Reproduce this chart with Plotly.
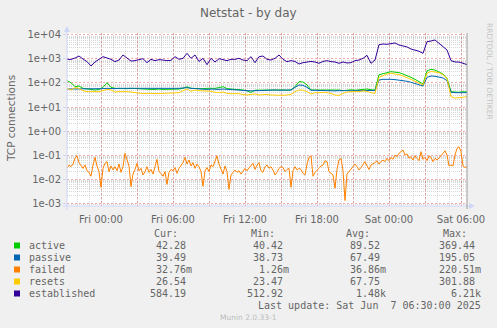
import pandas as pd
import plotly.graph_objects as go

# ---- data (Netstat, 2025-06-05 21:10 .. 2025-06-07 06:30) ----
t20 = pd.date_range("2025-06-05 21:10", "2025-06-07 06:30", freq="20min")
t10 = pd.date_range("2025-06-05 21:10", "2025-06-07 06:30", freq="10min")

established = [
    969, 960, 1100, 1330, 1000, 774, 512.92, 750, 969, 1250,
    1100, 969, 774, 908, 1468, 1100, 820, 853, 969, 1030,
    703, 969, 853, 940, 908, 853, 880, 1250, 969, 1066,
    1722, 1066, 1468, 790, 1066, 580, 1066, 750, 1030, 908,
    853, 969, 969, 1066, 908, 853, 1250, 703, 1250, 1330,
    969,
    908, 1066, 1468, 969, 774, 853, 790, 619, 703, 725,
    790, 750, 660, 790, 853, 774, 750, 660, 750, 680,
    703, 853, 908, 1066, 1420, 660, 908, 3950, 4217, 4100,
    4500, 4650, 3830, 3600, 3180, 2600, 2300, 2100, 1722, 5270,
    5620, 6210, 4500, 3266, 2371, 853, 750, 750, 680, 584.19,
]

active = [
    125, 103, 70, 75, 60, 58, 56, 51, 54, 66,
    103, 66, 60, 58, 60, 58, 60, 58, 60, 58,
    56, 54, 54, 56, 54, 54, 56, 54, 56, 60,
    70, 60, 58, 60, 58, 60, 58, 60, 64, 70,
    58, 56, 54, 56, 51, 47, 40.42, 50, 51, 52,
    51,
    51, 51, 52, 51, 50, 51, 70, 114, 110, 83,
    51, 51, 52, 51, 51, 51, 50, 51, 48, 51,
    52, 50, 52, 54, 56, 52, 51, 222, 237, 269,
    297, 288, 269, 237, 208, 172, 142, 118, 91, 320,
    369.44, 345, 297, 237, 156, 43.5, 42, 41, 43.5, 42.28,
]

passive = [
    56, 56, 58, 56, 54, 54, 56, 54, 56, 58,
    60, 58, 58, 60, 60, 58, 60, 58, 56, 58,
    56, 56, 58, 56, 56, 58, 56, 58, 60, 62,
    64, 60, 58, 56, 56, 54, 56, 54, 54, 56,
    54, 54, 52, 51, 50, 48, 47, 48, 50, 50,
    50,
    50, 51, 50, 51, 50, 51, 66, 83, 80, 66,
    50, 49, 48, 48, 49, 48, 47, 48, 49, 48,
    47, 48, 49, 50, 51, 49, 48, 133, 142, 146,
    142, 138, 133, 125, 118, 107, 97, 88, 75, 172,
    195.05, 190, 178, 162, 125, 41, 39.5, 38.73, 40.5, 39.49,
]

resets = [
    60, 51, 64, 60, 48, 43.5, 43.5, 42, 43.5, 48,
    54, 51, 42, 43.5, 45, 43.5, 42, 39.5, 37, 36,
    37, 36, 37, 36, 37, 38, 39.5, 41, 39.5, 48,
    56, 45, 51, 48, 47, 48, 45, 41, 39.5, 42,
    37, 36, 37, 36, 32.5, 31.6, 33.5, 34.8, 31.6, 32.5,
    33.5,
    31.6, 30.5, 31.6, 30.5, 31.6, 33.5, 43.5, 51, 50, 43.5,
    34.8, 39.5, 39.5, 41, 39.5, 37, 31.6, 30.5, 37, 42,
    43.5, 42, 43.5, 47, 45, 39.5, 37, 172, 205, 237,
    253, 245, 222, 196, 172, 142, 118, 100, 83, 253,
    301.88, 288, 269, 222, 156, 27, 23.47, 24.5, 25.3, 26.54,
]

failed = [
    0.0278, 0.0383, 0.0326, 0.042, 0.0727, 0.092, 0.048, 0.035, 0.0278, 0.0383,
    0.022, 0.019, 0.013, 0.0383, 0.080, 0.035, 0.0202, 0.0045, 0.0278, 0.045,
    0.0528, 0.0202, 0.035, 0.0237, 0.0326, 0.022, 0.042, 0.019, 0.0326, 0.117,
    0.066, 0.035, 0.0048, 0.016, 0.025, 0.045, 0.022, 0.0278, 0.0147, 0.0202,
    0.0326, 0.019, 0.025, 0.016, 0.0326, 0.066, 0.0202, 0.0172, 0.013, 0.0202,
    0.006, 0.019, 0.025, 0.022, 0.030, 0.0172, 0.0278, 0.035, 0.048, 0.080,
    0.042, 0.0619, 0.035, 0.048, 0.0278, 0.042, 0.0326, 0.0202, 0.005, 0.022,
    0.030, 0.0202, 0.0383, 0.0326, 0.058, 0.092, 0.042, 0.0278, 0.016, 0.035,
    0.0202, 0.0037, 0.0147, 0.019, 0.0237, 0.019, 0.022, 0.016, 0.0202, 0.0278,
    0.022, 0.030, 0.035, 0.045, 0.025, 0.0383, 0.048, 0.022, 0.019, 0.0326,
    0.0383,
    0.0278, 0.0326, 0.0237, 0.0147, 0.019, 0.0278, 0.0326, 0.030, 0.0202, 0.025,
    0.0278, 0.0045, 0.022, 0.0326, 0.0237, 0.0278, 0.025, 0.0172, 0.0147, 0.042,
    0.080, 0.092, 0.013, 0.019, 0.022, 0.0278, 0.035, 0.0383, 0.058, 0.0528,
    0.0202, 0.0172, 0.0147, 0.0041, 0.025, 0.0619, 0.0727, 0.022, 0.00126, 0.016,
    0.0202, 0.025, 0.0326, 0.042, 0.0326, 0.0237, 0.030, 0.042, 0.0528, 0.035,
    0.025, 0.0383, 0.042, 0.048, 0.058, 0.042, 0.0528, 0.0619, 0.0528, 0.0727,
    0.058, 0.080, 0.066, 0.100, 0.0853, 0.117, 0.138, 0.161, 0.100, 0.110,
    0.0727, 0.0853, 0.0619, 0.092, 0.0727, 0.058, 0.138, 0.066, 0.080, 0.058,
    0.092, 0.080, 0.0528, 0.0727, 0.0619, 0.080, 0.092, 0.117, 0.150, 0.100,
    0.035, 0.0383, 0.035, 0.100, 0.19, 0.2205, 0.138, 0.035, 0.030, 0.03276,
]

series_names = ["active", "passive", "failed", "resets", "established"]
series_colors = ["#00CC00", "#0066B3", "#FF8000", "#FFCC00", "#330099"]
series_x = [t20, t20, t10, t20, t20]
series_y = [active, passive, failed, resets, established]

col_headers = ["Cur:", "Min:", "Avg:", "Max:"]
stats = [
    ["42.28", "40.42", "89.52", "369.44"],
    ["39.49", "38.73", "67.49", "195.05"],
    ["32.76m", "1.26m", "36.86m", "220.51m"],
    ["26.54", "23.47", "67.75", "301.88"],
    ["584.19", "512.92", "1.48k", "6.21k"],
]

y_tick_vals = [1e-3, 1e-2, 1e-1, 1e0, 1e1, 1e2, 1e3, 1e4]
y_tick_text = ["1e-03", "1e-02", "1e-01", "1e+00", "1e+01", "1e+02", "1e+03", "1e+04"]

# ---- page geometry ----
W, H = 497, 328
PL, PT, PW, PH = 67, 33, 400, 173
FONT_C = "#666666"
AXIS_C = "#CFD6F8"


def px(x):
    return (x - PL) / PW


def py(y):
    return (PT + PH - y) / PH


fig = go.Figure()
for name, color, xs, ys in zip(series_names, series_colors, series_x, series_y):
    fig.add_trace(go.Scatter(x=xs, y=ys, mode="lines", name=name,
                             line=dict(color=color, width=1),
                             showlegend=False, hoverinfo="skip"))

major_x = pd.date_range("2025-06-06 00:00", "2025-06-07 06:00", freq="3h")
major_x = major_x.union(pd.DatetimeIndex(["2025-06-05 21:00"]))
major_txt = [d.strftime("%a %H:%M") if d.hour % 6 == 0 else "" for d in major_x]
minor_x = pd.date_range("2025-06-05 22:00", "2025-06-07 06:00", freq="1h")
minor_y = [m * 10.0 ** k for k in range(-4, 5) for m in range(2, 10)]

fig.update_xaxes(
    range=["2025-06-05 21:10", "2025-06-07 06:30"],
    tickmode="array", tickvals=list(major_x), ticktext=major_txt,
    showgrid=True, gridcolor="rgba(230,90,90,0.5)", griddash="2px,2px", gridwidth=1,
    ticks="outside", ticklen=4, tickcolor="rgba(0,0,0,0)", showline=False, zeroline=False,
    tickfont=dict(family="DejaVu Sans", size=10, color=FONT_C),
    minor=dict(tickmode="array", tickvals=list(minor_x), showgrid=True,
               gridcolor="rgba(150,150,150,0.38)", griddash="1px,1px", gridwidth=1),
)
fig.update_yaxes(
    type="log", range=[-3.125, 4.083],
    tickmode="array", tickvals=y_tick_vals, ticktext=y_tick_text,
    showgrid=True, gridcolor="rgba(230,90,90,0.5)", griddash="2px,2px", gridwidth=1,
    ticks="outside", ticklen=3, tickcolor=AXIS_C, showline=False, zeroline=False,
    tickfont=dict(family="DejaVu Sans", size=10, color=FONT_C),
    minor=dict(tickmode="array", tickvals=minor_y, showgrid=True,
               gridcolor="rgba(150,150,150,0.38)", griddash="1px,1px", gridwidth=1),
)

shapes = []
# axes with arrow heads
shapes.append(dict(type="line", xref="paper", yref="paper", x0=px(67), x1=px(67),
                   y0=py(210), y1=py(30), line=dict(color=AXIS_C, width=1)))
shapes.append(dict(type="line", xref="paper", yref="paper", x0=px(63), x1=px(471),
                   y0=py(206), y1=py(206), line=dict(color=AXIS_C, width=1)))
shapes.append(dict(type="path", xref="paper", yref="paper",
                   path=f"M {px(64)} {py(32)} L {px(70)} {py(32)} L {px(67)} {py(26)} Z",
                   fillcolor=AXIS_C, line=dict(color=AXIS_C, width=0)))
shapes.append(dict(type="path", xref="paper", yref="paper",
                   path=f"M {px(469)} {py(203)} L {px(469)} {py(209)} L {px(475)} {py(206)} Z",
                   fillcolor=AXIS_C, line=dict(color=AXIS_C, width=0)))
# right frame line
shapes.append(dict(type="line", xref="paper", yref="paper", x0=1, x1=1,
                   y0=py(209), y1=py(33), line=dict(color="#999999", width=1)))

ann = []


def text(x, y, s, anchor="left", size=10, family="DejaVu Sans Mono", color=FONT_C, angle=0):
    ann.append(dict(x=px(x), y=py(y), xref="paper", yref="paper", text=s,
                    showarrow=False, xanchor=anchor, yanchor="middle", textangle=angle,
                    font=dict(family=family, size=size, color=color)))


text(248, 13.5, "Netstat - by day", anchor="center", size=12, family="DejaVu Sans")
text(11, 118, "TCP connections", anchor="center", size=10.5, family="DejaVu Sans", angle=-90)
text(490, 71, "RRDTOOL / TOBI OETIKER", anchor="center", size=7.5,
     family="DejaVu Sans", color="#C4C4C4", angle=90)

# legend table
header_right = [180, 276.7, 372.3, 469]
value_right = [194.3, 291, 387.7, 483.3]
row_y = [245.5, 257.5, 269.5, 281.5, 293.5]
for h, xr in zip(col_headers, header_right):
    text(xr, 233.5, h, anchor="right")
for name, color, vals, yy in zip(series_names, series_colors, stats, row_y):
    shapes.append(dict(type="rect", xref="paper", yref="paper",
                       x0=px(14), x1=px(20), y0=py(yy + 3), y1=py(yy - 3),
                       fillcolor=color, line=dict(width=0)))
    text(26.7, yy, name)
    for v, xr in zip(vals, value_right):
        off = 0 if v[-1].isalpha() else 6.02
        text(xr - off, yy, v, anchor="right")

text(483.3, 305.7, "Last update: Sat Jun \u00a07 06:30:00 2025", anchor="right")
text(248, 317, "Munin 2.0.33-1", anchor="center", size=7.5, family="DejaVu Sans", color="#BBBBBB")

fig.update_layout(
    width=W, height=H,
    margin=dict(l=PL, r=W - PL - PW, t=PT, b=H - PT - PH, pad=0),
    paper_bgcolor="#F0F0F0", plot_bgcolor="#FFFFFF",
    shapes=shapes, annotations=ann, showlegend=False,
)

fig.write_html("out.html")
